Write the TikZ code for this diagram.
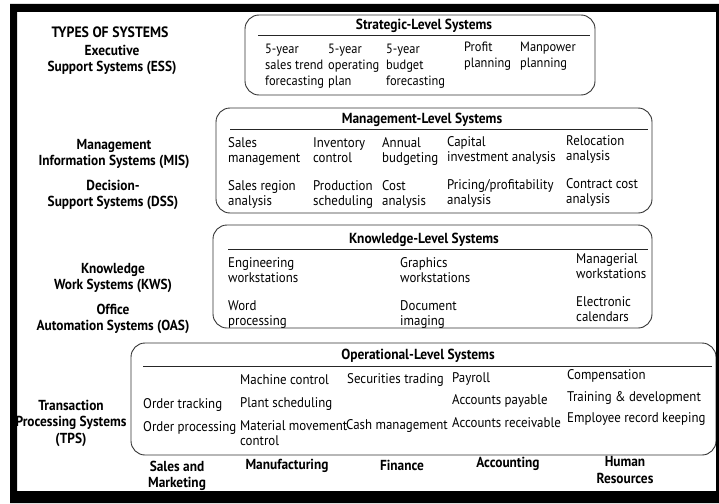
\documentclass[tikz,border=0pt]{standalone}
\usepackage{fontspec}
\setmainfont{PT Sans}[FakeStretch=0.92]
\begin{document}
\begin{tikzpicture}[x=1pt,y=-1pt]
\tikzset{
  entry/.style={anchor=north west, inner sep=0pt, align=left, font=\fontsize{14}{15.5}\selectfont},
  sentry/.style={entry, font=\fontsize{13.5}{16}\selectfont},
  side/.style={align=center, inner sep=0pt, font=\bfseries\fontsize{14.5}{16.5}\selectfont},
  head/.style={inner sep=0pt, font=\bfseries\fontsize{14.6}{16}\selectfont},
  levelbox/.style={draw=black!80, line width=0.9pt, rounded corners=14pt},
  rulel/.style={draw=black!85, line width=0.9pt},
}
\useasboundingbox (0,0) rectangle (719,503);
\fill[white] (0,0) rectangle (719,503);
% ---------- boxes ----------
\draw[levelbox] (245,15) rectangle (595,95);
\draw[levelbox] (216,108) rectangle (652,213);
\draw[levelbox] (213,225) rectangle (652,328);
\draw[levelbox] (131,343) rectangle (716,455);
% titles and rules
\node[head] (tstr) at (424,26) {Strategic-Level Systems};
\node[head] (tman) at (422,120) {Management-Level Systems};
\node[head] (tkno) at (424,240) {Knowledge-Level Systems};
\node[head] (tope) at (418,356) {Operational-Level Systems};
\draw[rulel] (258,35) -- (590,35);
\draw[rulel] (230,129) -- (648,129);
\draw[rulel] (228,249) -- (648,249);
\draw[rulel] (143,366) -- (712,366);
% ---------- side labels ----------
\node[side, font=\bfseries\fontsize{15}{16}\selectfont] (types) at (110,32) {TYPES OF SYSTEMS};
\node[side] (ess) at (112,60) {Executive\\Support Systems (ESS)};
\node[side] (mis) at (114,154) {Management\\Information Systems (MIS)};
\node[side] (dss) at (113,195) {Decision-\\Support Systems (DSS)};
\node[side] (kws) at (113,278) {Knowledge\\Work Systems (KWS)};
\node[side] (oas) at (113,319) {Office\\Automation Systems (OAS)};
\node[side] (tps) at (71,423) {Transaction\\Processing Systems\\(TPS)};
% ---------- strategic ----------
\node[sentry] (s1) at (265,44) {5-year\\sales trend\\forecasting};
\node[sentry] (s2) at (328,44) {5-year\\operating\\plan};
\node[sentry] (s3) at (386,44) {5-year\\budget\\forecasting};
\node[sentry] (s4) at (464,42) {Profit\\planning};
\node[sentry] (s5) at (520,42) {Manpower\\planning};
% ---------- management ----------
\node[entry] (m1) at (228,137) {Sales\\management};
\node[entry] (m2) at (313,137) {Inventory\\control};
\node[entry] (m3) at (382,137) {Annual\\budgeting};
\node[entry] (m4) at (447,136) {Capital\\investment analysis};
\node[entry] (m5) at (566,135) {Relocation\\analysis};
\node[entry] (d1) at (228,180) {Sales region\\analysis};
\node[entry] (d2) at (313,180) {Production\\scheduling};
\node[entry] (d3) at (382,180) {Cost\\analysis};
\node[entry] (d4) at (447,179) {Pricing/profitability\\analysis};
\node[entry] (d5) at (566,178) {Contract cost\\analysis};
% ---------- knowledge ----------
\node[entry] (k1) at (228,257) {Engineering\\workstations};
\node[entry] (k2) at (400,257) {Graphics\\workstations};
\node[entry] (k3) at (576,253) {Managerial\\workstations};
\node[entry] (o1) at (228,300) {Word\\processing};
\node[entry] (o2) at (400,300) {Document\\imaging};
\node[entry] (o3) at (576,296) {Electronic\\calendars};
% ---------- operational ----------
\node[entry] (p1) at (240,374) {Machine control};
\node[entry] (p2) at (347,373) {Securities trading};
\node[entry] (p3) at (452,372) {Payroll};
\node[entry] (p4) at (567,369) {Compensation};
\node[entry] (q1) at (143,398) {Order tracking};
\node[entry] (q2) at (240,397) {Plant scheduling};
\node[entry] (q3) at (452,394) {Accounts payable};
\node[entry] (q4) at (567,391) {Training \& development};
\node[entry] (r1) at (143,421) {Order processing};
\node[entry] (r2) at (240,420) {Material movement\\control};
\node[entry] (r3) at (346,419) {Cash management};
\node[entry] (r4) at (452,417) {Accounts receivable};
\node[entry] (r5) at (567,412) {Employee record keeping};
% ---------- functional areas ----------
\node[side] (f1) at (177,476) {Sales and\\Marketing};
\node[side] (f2) at (287,466) {Manufacturing};
\node[side] (f3) at (402,465) {Finance};
\node[side] (f4) at (508,464) {Accounting};
\node[side] (f5) at (625,470) {Human\\Resources};
% ---------- frame ----------
\fill[black, even odd rule] (10,4) rectangle (719,503) (17,12) rectangle (716,491);
\end{tikzpicture}
\end{document}
